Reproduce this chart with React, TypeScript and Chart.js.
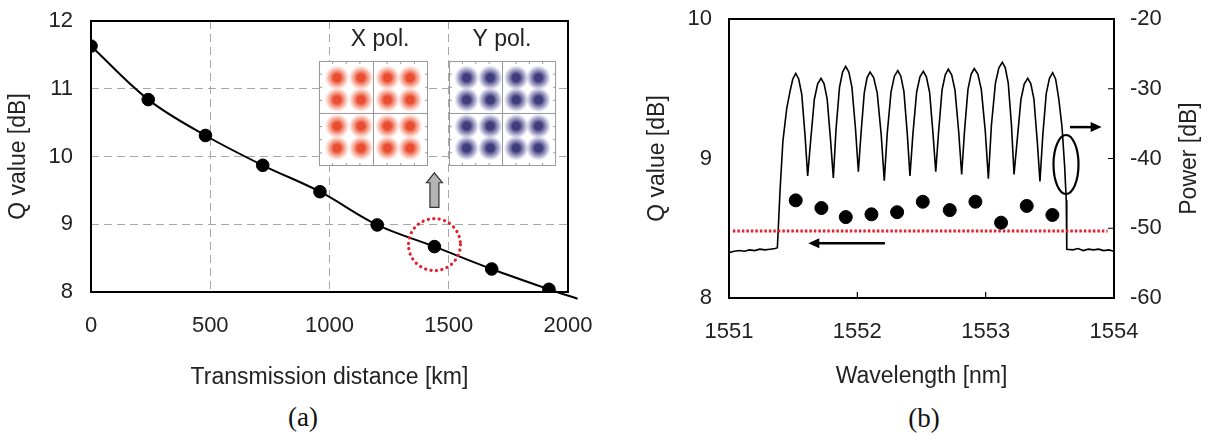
import React, { useEffect, useRef } from 'react';
import { Chart, registerables } from 'chart.js';

Chart.register(...registerables);

const FONT = "'Liberation Sans', Arial, Helvetica, sans-serif";
const SERIF = "'Liberation Serif', 'Times New Roman', Times, serif";
const TEXT = '#222';

// ---------- Panel (a) data ----------
const distanceKm = [0, 240, 480, 720, 960, 1200, 1440, 1680, 1920];
const qValueA = [11.63, 10.84, 10.31, 9.87, 9.48, 8.99, 8.67, 8.34, 8.04];
const curveKm = [0, 240, 480, 720, 960, 1200, 1440, 1680, 1920, 2040];
const curveQ = [11.63, 10.84, 10.31, 9.87, 9.48, 8.99, 8.67, 8.34, 8.04, 7.9];
const xTicksA = [0, 500, 1000, 1500, 2000];
const yTicksA = [8, 9, 10, 11, 12];
const highlightIndex = 6;
const insetTitles = ['X pol.', 'Y pol.'];
const insetTitleKm = [1212, 1723];
const insetTitleQ = 11.72;
const insetKmX = [956, 1413];
const insetKmY = [1501, 1950];
const insetQRange = [9.86, 11.41];
const arrowAQ = [9.25, 9.76];

// ---------- Panel (b) data ----------
const specWl = [
  1551.0, 1551.04, 1551.08, 1551.12, 1551.16, 1551.2, 1551.24, 1551.28, 1551.32, 1551.36,
  1551.377, 1551.398, 1551.42, 1551.45, 1551.475, 1551.497, 1551.52,
  1551.543, 1551.567, 1551.593, 1551.613,
  1551.636, 1551.665, 1551.691, 1551.717, 1551.741, 1551.765, 1551.792, 1551.813,
  1551.834, 1551.861, 1551.885, 1551.909, 1551.934, 1551.958, 1551.986, 1552.008,
  1552.028, 1552.054, 1552.076, 1552.099, 1552.127, 1552.155, 1552.186, 1552.21,
  1552.233, 1552.263, 1552.289, 1552.315, 1552.339, 1552.363, 1552.389, 1552.41,
  1552.433, 1552.462, 1552.488, 1552.514, 1552.538, 1552.563, 1552.59, 1552.611,
  1552.633, 1552.66, 1552.685, 1552.709, 1552.735, 1552.761, 1552.79, 1552.813,
  1552.835, 1552.862, 1552.887, 1552.911, 1552.939, 1552.966, 1552.997, 1553.021,
  1553.045, 1553.076, 1553.103, 1553.13, 1553.153, 1553.176, 1553.201, 1553.221,
  1553.245, 1553.275, 1553.301, 1553.328, 1553.352, 1553.376, 1553.402, 1553.423,
  1553.445, 1553.472, 1553.497, 1553.522, 1553.545, 1553.57, 1553.595, 1553.615, 1553.628, 1553.632,
  1553.68, 1553.72, 1553.76, 1553.8, 1553.84, 1553.88, 1553.92, 1553.96, 1554.0,
];
const specPow = [
  -53.5, -53.3, -53.2, -53.3, -53.1, -53.2, -53.0, -53.1, -53.0, -52.9,
  -52.8, -44.5, -37.5, -32.8, -30.4, -28.6, -27.8,
  -28.6, -30.8, -36.8, -42.5,
  -37.5, -31.5, -29.3, -28.5, -29.3, -31.5, -37.5, -42.8,
  -35.8, -29.8, -27.6, -26.8, -27.6, -29.8, -35.8, -41.9,
  -36.6, -30.6, -28.4, -27.6, -28.4, -30.6, -36.6, -43.2,
  -36.4, -30.4, -28.2, -27.4, -28.2, -30.4, -36.4, -42.5,
  -36.5, -30.5, -28.3, -27.5, -28.3, -30.5, -36.5, -41.9,
  -36.2, -30.2, -28.0, -27.2, -28.0, -30.2, -36.2, -42.3,
  -36.1, -30.1, -27.9, -27.1, -27.9, -30.1, -36.1, -42.9,
  -35.2, -29.2, -27.0, -26.2, -27.0, -29.2, -35.2, -42.3,
  -37.5, -31.5, -29.3, -28.5, -29.3, -31.5, -37.5, -43.3,
  -36.7, -30.7, -28.5, -27.7, -28.6, -31.5, -35.5, -41.0, -46.0, -53.0,
  -53.1, -52.9, -53.2, -53.0, -53.1, -53.0, -53.2, -53.1, -53.3,
];
const qWl = [1551.52, 1551.72, 1551.91, 1552.11, 1552.31, 1552.51, 1552.72, 1552.92, 1553.12, 1553.32, 1553.52];
const qValueB = [8.7, 8.645, 8.58, 8.6, 8.615, 8.69, 8.63, 8.69, 8.54, 8.66, 8.595];
const thresholdWl = [1551.03, 1553.95];
const thresholdQ = [8.48, 8.48];
const xTicksB = [1551, 1552, 1553, 1554];
const yTicksBL = [8, 9, 10];
const yTicksBR = [-60, -50, -40, -30, -20];
const ellipseAt = { wl: 1553.626, pow: -40.86 };
const powerArrow = { wl: [1553.657, 1553.904], pow: -35.5 };
const qArrow = { wl: [1552.215, 1551.618], q: 8.392 };

function setTicks(values: number[]) {
  return (scale: any) => {
    scale.ticks = values.map((v) => ({ value: v }));
  };
}

function fixSize(prop: 'width' | 'height', size: number) {
  return (s: any) => {
    s[prop] = size;
    s.paddingLeft = 0;
    s.paddingRight = 0;
    s.paddingTop = 0;
    s.paddingBottom = 0;
  };
}

function drawArrow(ctx: CanvasRenderingContext2D, x1: number, y1: number, x2: number, y2: number) {
  const ang = Math.atan2(y2 - y1, x2 - x1);
  const hl = 11;
  const hw = 5;
  ctx.save();
  ctx.strokeStyle = '#000';
  ctx.fillStyle = '#000';
  ctx.lineWidth = 2.5;
  ctx.beginPath();
  ctx.moveTo(x1, y1);
  ctx.lineTo(x2 - Math.cos(ang) * hl * 0.8, y2 - Math.sin(ang) * hl * 0.8);
  ctx.stroke();
  ctx.beginPath();
  ctx.moveTo(x2, y2);
  ctx.lineTo(x2 - Math.cos(ang) * hl - Math.sin(ang) * hw, y2 - Math.sin(ang) * hl + Math.cos(ang) * hw);
  ctx.lineTo(x2 - Math.cos(ang) * hl + Math.sin(ang) * hw, y2 - Math.sin(ang) * hl - Math.cos(ang) * hw);
  ctx.closePath();
  ctx.fill();
  ctx.restore();
}

function drawInset(ctx: CanvasRenderingContext2D, xs: any, ys: any, kmRange: number[], colors: string[]) {
  const x0 = xs.getPixelForValue(kmRange[0]);
  const x1 = xs.getPixelForValue(kmRange[1]);
  const y0 = ys.getPixelForValue(insetQRange[1]);
  const y1 = ys.getPixelForValue(insetQRange[0]);
  const w = x1 - x0;
  const h = y1 - y0;
  ctx.save();
  ctx.fillStyle = '#fff';
  ctx.fillRect(x0, y0, w, h);
  const fx = [0.165, 0.385, 0.628, 0.835];
  const fy = [0.16, 0.37, 0.62, 0.83];
  const r = 12.5;
  for (const a of fx) {
    for (const b of fy) {
      const cx = x0 + a * w;
      const cy = y0 + b * h;
      const g = ctx.createRadialGradient(cx, cy, 0, cx, cy, r);
      g.addColorStop(0, colors[0]);
      g.addColorStop(0.3, colors[0]);
      g.addColorStop(0.7, colors[1]);
      g.addColorStop(1, colors[2]);
      ctx.fillStyle = g;
      ctx.beginPath();
      ctx.arc(cx, cy, r, 0, Math.PI * 2);
      ctx.fill();
    }
  }
  ctx.strokeStyle = '#999';
  ctx.lineWidth = 1;
  ctx.beginPath();
  ctx.moveTo(x0 + w / 2, y0);
  ctx.lineTo(x0 + w / 2, y1);
  ctx.moveTo(x0, y0 + h / 2);
  ctx.lineTo(x1, y0 + h / 2);
  ctx.stroke();
  ctx.strokeRect(x0 + 0.5, y0 + 0.5, w - 1, h - 1);
  ctx.beginPath();
  for (let i = 1; i < 8; i++) {
    const tx = x0 + (w * i) / 8;
    const ty = y0 + (h * i) / 8;
    ctx.moveTo(tx, y0);
    ctx.lineTo(tx, y0 + 3);
    ctx.moveTo(tx, y1);
    ctx.lineTo(tx, y1 - 3);
    ctx.moveTo(x0, ty);
    ctx.lineTo(x0 + 3, ty);
    ctx.moveTo(x1, ty);
    ctx.lineTo(x1 - 3, ty);
  }
  ctx.stroke();
  ctx.restore();
}

const panelAPlugin = {
  id: 'panelA',
  beforeDatasetsDraw(chart: any) {
    const { ctx, chartArea: a, scales } = chart;
    const xs = scales.x;
    const ys = scales.y;
    drawInset(ctx, xs, ys, insetKmX, ['rgba(232,62,32,0.92)', 'rgba(240,110,80,0.45)', 'rgba(245,150,130,0)']);
    drawInset(ctx, xs, ys, insetKmY, ['rgba(48,44,112,0.92)', 'rgba(85,80,150,0.45)', 'rgba(120,120,180,0)']);
    ctx.save();
    ctx.fillStyle = TEXT;
    ctx.font = `23px ${FONT}`;
    ctx.textAlign = 'center';
    ctx.textBaseline = 'middle';
    insetTitles.forEach((t, i) => {
      ctx.fillText(t, xs.getPixelForValue(insetTitleKm[i]), ys.getPixelForValue(insetTitleQ));
    });
    ctx.restore();
    // gray block arrow
    const ax = xs.getPixelForValue(distanceKm[highlightIndex]);
    const ab = ys.getPixelForValue(arrowAQ[0]);
    const at = ys.getPixelForValue(arrowAQ[1]);
    ctx.save();
    ctx.fillStyle = '#b4b4b4';
    ctx.strokeStyle = '#333';
    ctx.lineWidth = 1.2;
    ctx.beginPath();
    ctx.moveTo(ax, at);
    ctx.lineTo(ax + 8, at + 10);
    ctx.lineTo(ax + 4.5, at + 10);
    ctx.lineTo(ax + 4.5, ab);
    ctx.lineTo(ax - 4.5, ab);
    ctx.lineTo(ax - 4.5, at + 10);
    ctx.lineTo(ax - 8, at + 10);
    ctx.closePath();
    ctx.fill();
    ctx.stroke();
    ctx.restore();
    // frame
    ctx.save();
    ctx.strokeStyle = '#000';
    ctx.lineWidth = 2;
    ctx.strokeRect(a.left, a.top, a.right - a.left, a.bottom - a.top);
    ctx.restore();
  },
  afterDatasetsDraw(chart: any) {
    const { ctx, scales } = chart;
    const cx = scales.x.getPixelForValue(distanceKm[highlightIndex]);
    const cy = scales.y.getPixelForValue(qValueA[highlightIndex]) - 2;
    ctx.save();
    ctx.strokeStyle = '#e3202b';
    ctx.lineWidth = 3.2;
    ctx.lineCap = 'round';
    ctx.setLineDash([0.1, 5.4]);
    ctx.beginPath();
    ctx.arc(cx, cy, 26, 0, Math.PI * 2);
    ctx.stroke();
    ctx.restore();
  },
};

const panelBPlugin = {
  id: 'panelB',
  beforeDatasetsDraw(chart: any) {
    const { ctx, chartArea: a, scales } = chart;
    ctx.save();
    ctx.strokeStyle = '#000';
    ctx.lineWidth = 2;
    ctx.strokeRect(a.left, a.top, a.right - a.left, a.bottom - a.top);
    ctx.lineWidth = 1.2;
    ctx.beginPath();
    for (const t of scales.x.ticks) {
      const px = scales.x.getPixelForValue(t.value);
      if (px <= a.left + 2 || px >= a.right - 2) continue;
      ctx.moveTo(px, a.bottom);
      ctx.lineTo(px, a.bottom - 6);
    }
    for (const t of scales.yR.ticks) {
      const py = scales.yR.getPixelForValue(t.value);
      if (py <= a.top + 2 || py >= a.bottom - 2) continue;
      ctx.moveTo(a.right, py);
      ctx.lineTo(a.right - 6, py);
    }
    ctx.stroke();
    ctx.restore();
  },
  afterDatasetsDraw(chart: any) {
    const { ctx, scales } = chart;
    const xs = scales.x;
    ctx.save();
    ctx.strokeStyle = '#000';
    ctx.lineWidth = 2.2;
    ctx.beginPath();
    ctx.ellipse(xs.getPixelForValue(ellipseAt.wl), scales.yR.getPixelForValue(ellipseAt.pow), 12.5, 29.5, 0, 0, Math.PI * 2);
    ctx.stroke();
    ctx.restore();
    const py = scales.yR.getPixelForValue(powerArrow.pow);
    drawArrow(ctx, xs.getPixelForValue(powerArrow.wl[0]), py, xs.getPixelForValue(powerArrow.wl[1]), py);
    const qy = scales.yL.getPixelForValue(qArrow.q);
    drawArrow(ctx, xs.getPixelForValue(qArrow.wl[0]), qy, xs.getPixelForValue(qArrow.wl[1]), qy);
    ctx.save();
    ctx.fillStyle = TEXT;
    ctx.font = `23px ${FONT}`;
    ctx.textAlign = 'center';
    ctx.textBaseline = 'middle';
    ctx.translate(chart.width - 18, (chart.chartArea.top + chart.chartArea.bottom) / 2);
    ctx.rotate(-Math.PI / 2);
    ctx.fillText('Power [dB]', 0, 0);
    ctx.restore();
  },
};

const tickFont = { size: 22, family: FONT };
const titleFont = { size: 23, family: FONT };
const fmt = (v: any) => String(v);

export default function App() {
  const refA = useRef<HTMLCanvasElement>(null);
  const refB = useRef<HTMLCanvasElement>(null);

  useEffect(() => {
    document.body.style.margin = '0';
    Chart.defaults.font.family = FONT;
    const chartA = new Chart(refA.current as HTMLCanvasElement, {
      type: 'scatter',
      data: {
        datasets: [
          {
            label: 'Q value',
            data: distanceKm.map((d, i) => ({ x: d, y: qValueA[i] })),
            showLine: false,
            pointRadius: 6.3,
            pointBackgroundColor: '#000',
            pointBorderColor: '#000',
          },
          {
            label: 'fit',
            data: curveKm.map((d, i) => ({ x: d, y: curveQ[i] })),
            showLine: true,
            pointRadius: 0,
            borderColor: '#000',
            borderWidth: 2,
            tension: 0.35,
            clip: false,
          },
        ],
      } as any,
      options: {
        animation: false,
        responsive: false,
        events: [],
        layout: { padding: { left: 0, right: 32, top: 21, bottom: 0 } },
        plugins: { legend: { display: false }, tooltip: { enabled: false } },
        scales: {
          x: {
            type: 'linear',
            min: 0,
            max: 2000,
            afterBuildTicks: setTicks(xTicksA),
            afterFit: fixSize('height', 108),
            ticks: { font: tickFont, color: TEXT, padding: 21, callback: fmt, maxRotation: 0, autoSkip: false },
            grid: { color: '#a8a8a8', lineWidth: 1, drawTicks: false },
            border: { display: false, dash: [8, 5] },
            title: { display: true, text: 'Transmission distance [km]', font: titleFont, color: TEXT, padding: { top: 0, bottom: 9 } },
          },
          y: {
            type: 'linear',
            min: 8,
            max: 12,
            afterBuildTicks: setTicks(yTicksA),
            afterFit: fixSize('width', 91),
            ticks: { font: tickFont, color: TEXT, padding: 18, callback: fmt },
            grid: { color: '#a8a8a8', lineWidth: 1, drawTicks: false },
            border: { display: false, dash: [8, 5] },
            title: { display: true, text: 'Q value [dB]', font: titleFont, color: TEXT, padding: { top: 5, bottom: 0 } },
          },
        },
      } as any,
      plugins: [panelAPlugin],
    });

    const chartB = new Chart(refB.current as HTMLCanvasElement, {
      type: 'scatter',
      data: {
        datasets: [
          {
            label: 'Q value',
            yAxisID: 'yL',
            data: qWl.map((w, i) => ({ x: w, y: qValueB[i] })),
            showLine: false,
            pointRadius: 6.5,
            pointBackgroundColor: '#000',
            pointBorderColor: '#000',
          },
          {
            label: 'threshold',
            yAxisID: 'yL',
            data: thresholdWl.map((w, i) => ({ x: w, y: thresholdQ[i] })),
            showLine: true,
            pointRadius: 0,
            borderColor: '#e3202b',
            borderWidth: 3,
            borderDash: [2.5, 2],
          },
          {
            label: 'Power',
            yAxisID: 'yR',
            data: specWl.map((w, i) => ({ x: w, y: specPow[i] })),
            showLine: true,
            pointRadius: 0,
            borderColor: '#000',
            borderWidth: 1.6,
            tension: 0,
          },
        ],
      } as any,
      options: {
        animation: false,
        responsive: false,
        events: [],
        layout: { padding: { left: 0, right: 0, top: 19, bottom: 0 } },
        plugins: { legend: { display: false }, tooltip: { enabled: false } },
        scales: {
          x: {
            type: 'linear',
            min: 1551,
            max: 1554,
            afterBuildTicks: setTicks(xTicksB),
            afterFit: fixSize('height', 102),
            ticks: { font: tickFont, color: TEXT, padding: 21, callback: fmt, maxRotation: 0, autoSkip: false },
            grid: { display: false, drawTicks: false },
            border: { display: false },
            title: { display: true, text: 'Wavelength [nm]', font: titleFont, color: TEXT, padding: { top: 0, bottom: 10 } },
          },
          yL: {
            type: 'linear',
            position: 'left',
            min: 8,
            max: 10,
            afterBuildTicks: setTicks(yTicksBL),
            afterFit: fixSize('width', 129),
            ticks: { font: tickFont, color: TEXT, padding: 17, callback: fmt },
            grid: { display: false, drawTicks: false },
            border: { display: false },
            title: { display: true, text: 'Q value [dB]', font: titleFont, color: TEXT, padding: { top: 44, bottom: 0 } },
          },
          yR: {
            type: 'linear',
            position: 'right',
            min: -60,
            max: -20,
            afterBuildTicks: setTicks(yTicksBR),
            afterFit: fixSize('width', 94),
            ticks: { font: tickFont, color: TEXT, padding: 16, callback: fmt },
            grid: { display: false, drawTicks: false },
            border: { display: false },
          },
        },
      } as any,
      plugins: [panelBPlugin],
    });

    return () => {
      chartA.destroy();
      chartB.destroy();
    };
  }, []);

  const labelStyle: React.CSSProperties = {
    position: 'absolute',
    transform: 'translate(-50%, -50%)',
    fontFamily: SERIF,
    fontSize: 27,
    lineHeight: 1,
    color: '#111',
    whiteSpace: 'nowrap',
  };

  return (
    <div style={{ position: 'absolute', left: 0, top: 0, width: 1208, height: 441, background: '#fff', overflow: 'hidden' }}>
      <canvas ref={refA} width={600} height={400} style={{ position: 'absolute', left: 0, top: 0, display: 'block' }} />
      <canvas ref={refB} width={608} height={400} style={{ position: 'absolute', left: 600, top: 0, display: 'block' }} />
      <div style={{ ...labelStyle, left: 303, top: 417 }}>(a)</div>
      <div style={{ ...labelStyle, left: 924, top: 418 }}>(b)</div>
    </div>
  );
}
